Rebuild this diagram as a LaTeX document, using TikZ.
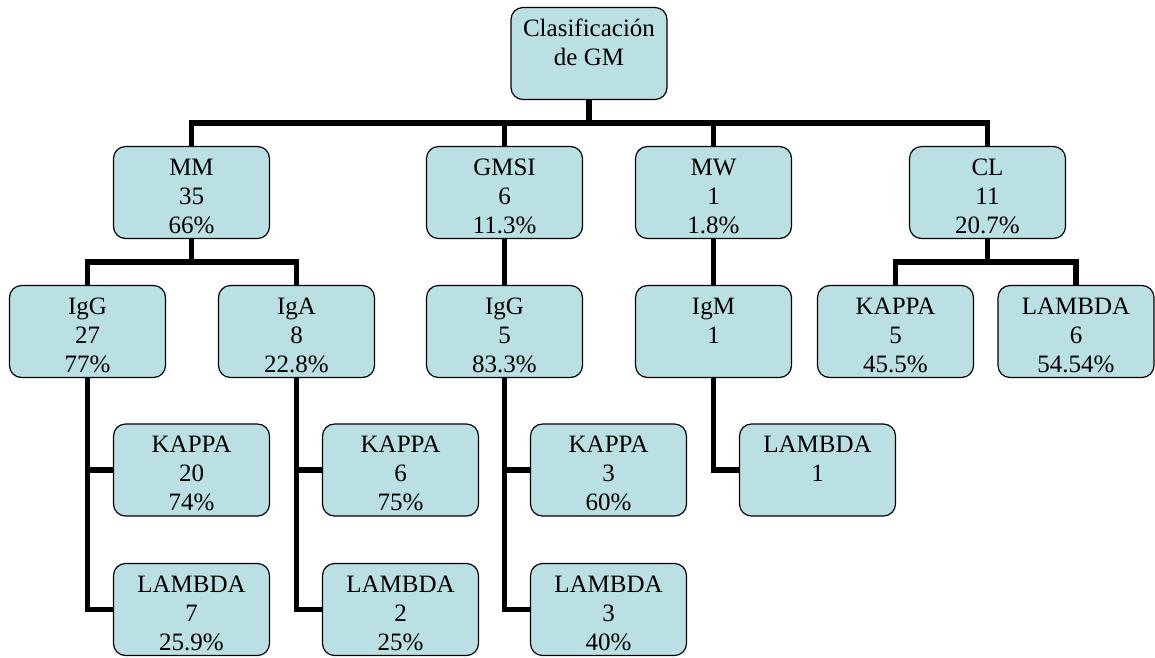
\documentclass[tikz,border=0pt]{standalone}
\usepackage{fontspec}
\setmainfont{Liberation Serif}
\usetikzlibrary{backgrounds}
\definecolor{boxfill}{RGB}{186,224,228}
\newcommand\gmtop{\rule{0pt}{24pt}}
\newcommand\gmbot{\rule[-1pt]{0pt}{1pt}}
\begin{document}
\begin{tikzpicture}[x=1pt,y=-1pt,
  gbox/.style={draw=black, line width=1.2pt, fill=boxfill, rounded corners=12pt,
    minimum width=156pt, minimum height=92pt, inner sep=2pt, align=center,
    font=\fontsize{25}{29}\selectfont},
  conn/.style={line width=5.5pt, draw=black}]
\useasboundingbox (0,0) rectangle (1155,657);
% level 0
\node[gbox] (root) at (589,53.5) {\gmtop Clasificación\\de GM\\\gmbot};
% level 1
\node[gbox] (MM)   at (191.5,192.5) {\gmtop MM\\35\\66\%\gmbot};
\node[gbox] (GMSI) at (504.5,192.5) {\gmtop GMSI\\6\\11.3\%\gmbot};
\node[gbox] (MW)   at (713.5,192.5) {\gmtop MW\\1\\1.8\%\gmbot};
\node[gbox] (CL)   at (987.5,192.5) {\gmtop CL\\11\\20.7\%\gmbot};
% level 2
\node[gbox] (IgGa) at (87.5,331.5)  {\gmtop IgG\\27\\77\%\gmbot};
\node[gbox] (IgA)  at (296.5,331.5) {\gmtop IgA\\8\\22.8\%\gmbot};
\node[gbox] (IgGb) at (504.5,331.5) {\gmtop IgG\\5\\83.3\%\gmbot};
\node[gbox] (IgM)  at (713.5,331.5) {\gmtop IgM\\1\\\gmbot};
\node[gbox] (Kcl)  at (895.5,331.5) {\gmtop KAPPA\\5\\45.5\%\gmbot};
\node[gbox] (Lcl)  at (1076,331.5)  {\gmtop LAMBDA\\6\\54.54\%\gmbot};
% level 3
\node[gbox] (Ka) at (191.5,470) {\gmtop KAPPA\\20\\74\%\gmbot};
\node[gbox] (Kb) at (400.5,470) {\gmtop KAPPA\\6\\75\%\gmbot};
\node[gbox] (Kc) at (608.5,470) {\gmtop KAPPA\\3\\60\%\gmbot};
\node[gbox] (Ld) at (817.5,470) {\gmtop LAMBDA\\1\\\gmbot};
% level 4
\node[gbox] (La) at (191.5,609.5) {\gmtop LAMBDA\\7\\25.9\%\gmbot};
\node[gbox] (Lb) at (400.5,609.5) {\gmtop LAMBDA\\2\\25\%\gmbot};
\node[gbox] (Lc) at (608.5,609.5) {\gmtop LAMBDA\\3\\40\%\gmbot};
% connectors
\coordinate (barA) at (0,123);
\coordinate (barB) at (0,262);
\begin{scope}[on background layer]
\draw[conn] (root.south) -- (root.south |- barA);
\draw[conn] (MM.north) -- (MM.north |- barA) -- (CL.north |- barA) -- (CL.north);
\draw[conn] (GMSI.north) -- (GMSI.north |- barA);
\draw[conn] (MW.north) -- (MW.north |- barA);
\draw[conn] (MM.south) -- (MM.south |- barB);
\draw[conn] (IgGa.north) -- (IgGa.north |- barB) -- (IgA.north |- barB) -- (IgA.north);
\draw[conn] (CL.south) -- (CL.south |- barB);
\draw[conn] (Kcl.north) -- (Kcl.north |- barB) -- (Lcl.north |- barB) -- (Lcl.north);
\draw[conn] (GMSI.south) -- (IgGb.north);
\draw[conn] (MW.south) -- (IgM.north);
\draw[conn] (IgGa.south) |- (La.west);
\draw[conn] (IgGa.south |- Ka.west) -- (Ka.west);
\draw[conn] (IgA.south) |- (Lb.west);
\draw[conn] (IgA.south |- Kb.west) -- (Kb.west);
\draw[conn] (IgGb.south) |- (Lc.west);
\draw[conn] (IgGb.south |- Kc.west) -- (Kc.west);
\draw[conn] (IgM.south) |- (Ld.west);
\end{scope}
\end{tikzpicture}
\end{document}
